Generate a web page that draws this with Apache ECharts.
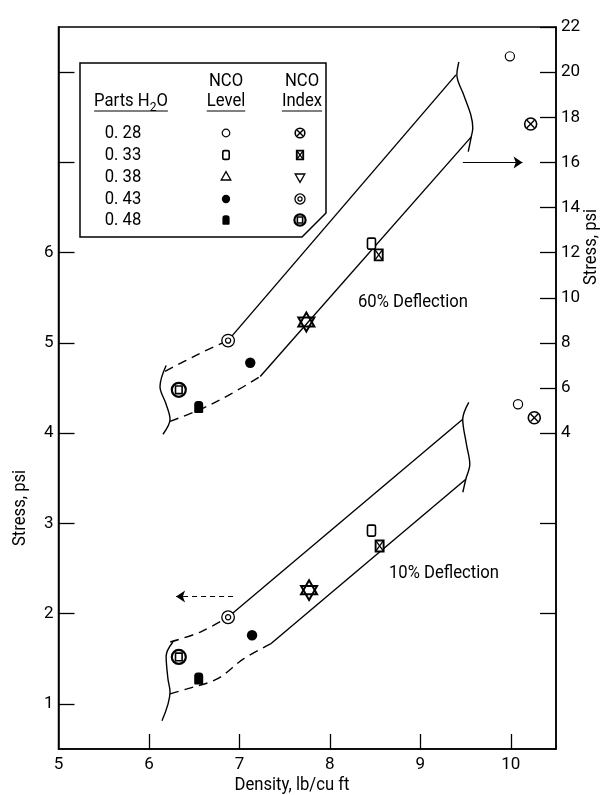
<!DOCTYPE html>
<html><head><meta charset="utf-8">
<script src="https://cdn.jsdelivr.net/npm/echarts@6/dist/echarts.min.js"></script>
<style>html,body{margin:0;padding:0;background:#fff}#c{width:601px;height:795px}</style>
</head><body><div id="c"></div>
<script>
// ---------- axes ----------
const xLabels = [5, 6, 7, 8, 9, 10];
const leftTicks = [1, 2, 3, 4, 5, 6, 7, 8];
const leftLabels = [1, 2, 3, 4, 5, 6];
const rightTicks = [-4, 0, 4, 6, 8, 10, 12, 14, 16, 18, 20, 22];
const rightLabels = [4, 6, 8, 10, 12, 14, 16, 18, 20, 22];

// ---------- 60% deflection points (right axis, psi) ----------
const p60_openCircle = [[9.99, 20.7]];
const p60_crossCircle = [[10.22, 17.7]];
const p60_openSquare = [[8.46, 12.4]];
const p60_xSquare = [[8.54, 11.9]];
const p60_triUp = [[7.74, 8.95]];
const p60_triDown = [[7.74, 8.9]];
const p60_dot = [[7.12, 7.12]];
const p60_ring = [[6.875, 8.1]];
const p60_fillSquare = [[6.55, 5.16]];
const p60_circSquare = [[6.33, 5.92]];

// ---------- 10% deflection points (left axis, psi) ----------
const p10_openCircle = [[10.08, 4.32]];
const p10_crossCircle = [[10.26, 4.17]];
const p10_openSquare = [[8.46, 2.92]];
const p10_xSquare = [[8.55, 2.75]];
const p10_triUp = [[7.77, 2.27]];
const p10_triDown = [[7.77, 2.25]];
const p10_dot = [[7.14, 1.76]];
const p10_ring = [[6.875, 1.96]];
const p10_fillSquare = [[6.55, 1.28]];
const p10_circSquare = [[6.33, 1.52]];

// ---------- 60% band (right axis) ----------
const b60_upperSolid = [[6.876, 8.11], [9.394, 19.88]];
const b60_upperDashed = [[6.177, 6.74], [6.40, 7.2], [6.62, 7.64], [6.876, 8.11]];
const b60_lowerSolid = [[7.23, 6.51], [9.563, 17.13]];
const b60_lowerDashed = [[6.233, 4.52], [6.565, 5.05], [6.898, 5.72], [7.23, 6.51]];
const b60_breakRight = [[9.426, 20.45], [9.404, 19.88], [9.48, 18.99], [9.558, 18.11], [9.58, 17.52], [9.563, 17.13], [9.53, 16.48]];
const b60_breakLeft = [[6.19, 7.0], [6.122, 6.07], [6.19, 5.28], [6.233, 4.61], [6.155, 3.95]];

// ---------- 10% band (left axis) ----------
const b10_upperSolid = [[6.876, 1.962], [9.469, 4.153]];
const b10_upperDashed = [[6.235, 1.686], [6.568, 1.796], [6.876, 1.962]];
const b10_lowerSolid = [[7.344, 1.664], [9.503, 3.489]];
const b10_lowerDashed = [[6.233, 1.11], [6.42, 1.166], [6.754, 1.277], [7.045, 1.498], [7.344, 1.664]];
const b10_breakRight = [[9.536, 4.341], [9.469, 4.153], [9.51, 3.876], [9.547, 3.655], [9.503, 3.489], [9.47, 3.345]];
const b10_breakLeft = [[6.265, 1.686], [6.19, 1.531], [6.21, 1.277], [6.233, 1.133], [6.144, 0.812]];

// ---------- arrows ----------
const arrow60 = [[9.47, 16.0], [10.13, 16.0]];
const arrow10 = [[6.93, 2.19], [6.30, 2.19]];

// ---------- legend ----------
const legendWater = ['0. 28', '0. 33', '0. 38', '0. 43', '0. 48'];
const legendLevelSym = ['openCircleS', 'openSquareS', 'triUpS', 'dotS', 'fillSquareS'];
const legendIndexSym = ['crossCircleS', 'xSquareS', 'triDownS', 'ringS', 'circSquareS'];

const FONT = 'Roboto, "Liberation Sans", sans-serif';
const mctx = document.createElement('canvas').getContext('2d');
function tw(t, size) { mctx.font = size + 'px ' + FONT; return mctx.measureText(t).width; }
const SX = Math.min(1, 110 / tw('60% Deflection', 18)); // condensed look

function sym(t, zz) {
  const K = '#000';
  const small = t.endsWith('S');
  const k = small ? 0.8 : 1;
  const base = small ? t.slice(0, -1) : t;
  let out = [];
  switch (base) {
    case 'openCircle':
      out = [{ type: 'circle', shape: { cx: 0, cy: 0, r: (small ? 3.8 : 4.6) }, style: { stroke: K, fill: '#fff', lineWidth: 1.2 } }]; break;
    case 'crossCircle': {
      const r = 6 * k, d = r * 0.62;
      out = [
        { type: 'circle', shape: { cx: 0, cy: 0, r }, style: { stroke: K, fill: '#fff', lineWidth: 1.6 } },
        { type: 'line', shape: { x1: -d, y1: -d, x2: d, y2: d }, style: { stroke: K, lineWidth: 1.4 } },
        { type: 'line', shape: { x1: -d, y1: d, x2: d, y2: -d }, style: { stroke: K, lineWidth: 1.4 } }]; break;
    }
    case 'openSquare':
      out = [{ type: 'rect', shape: { x: -4 * k, y: -5.5 * k, width: 8 * k, height: 11 * k, r: 1.5 }, style: { stroke: K, fill: '#fff', lineWidth: 1.6 } }]; break;
    case 'xSquare': {
      const w = 4 * k, h = 5.5 * k;
      out = [
        { type: 'rect', shape: { x: -w, y: -h, width: 2 * w, height: 2 * h }, style: { stroke: K, fill: '#fff', lineWidth: 1.9 } },
        { type: 'line', shape: { x1: -w, y1: -h, x2: w, y2: h }, style: { stroke: K, lineWidth: 1.3 } },
        { type: 'line', shape: { x1: -w, y1: h, x2: w, y2: -h }, style: { stroke: K, lineWidth: 1.3 } }]; break;
    }
    case 'triUp': {
      const a = small ? 0.6 : 1;
      out = [{ type: 'polygon', shape: { points: [[0, -9 * a], [8 * a, 5 * a], [-8 * a, 5 * a]] }, style: { stroke: K, fill: 'none', lineWidth: small ? 1.3 : 2 } }]; break;
    }
    case 'triDown': {
      const a = small ? 0.6 : 1;
      out = [{ type: 'polygon', shape: { points: [[0, 9 * a], [8 * a, -5 * a], [-8 * a, -5 * a]] }, style: { stroke: K, fill: 'none', lineWidth: small ? 1.3 : 2 } }]; break;
    }
    case 'dot':
      out = [{ type: 'circle', shape: { cx: 0, cy: 0, r: 5.2 * k }, style: { fill: K } }]; break;
    case 'ring':
      out = [
        { type: 'circle', shape: { cx: 0, cy: 0, r: 6.3 * k }, style: { stroke: K, fill: '#fff', lineWidth: 1.3 } },
        { type: 'circle', shape: { cx: 0, cy: 0, r: 2.6 * k }, style: { stroke: K, fill: '#fff', lineWidth: 1.2 } }]; break;
    case 'fillSquare':
      out = [{ type: 'rect', shape: { x: -4.5 * k, y: -6 * k, width: 9 * k, height: 12 * k, r: [3.5 * k, 3.5 * k, 1, 1] }, style: { fill: K } }]; break;
    case 'circSquare':
      out = [
        { type: 'circle', shape: { cx: 0, cy: 0, r: 7 * k }, style: { stroke: K, fill: '#fff', lineWidth: 2.2 } },
        { type: 'rect', shape: { x: -3.3 * k, y: -3.8 * k, width: 6.6 * k, height: 7.6 * k }, style: { stroke: K, fill: '#fff', lineWidth: 1.6 } }]; break;
  }
  if (zz != null) out.forEach(e => { e.z = zz; });
  return out;
}

function markerSeries(type, data, yIdx) {
  return {
    type: 'custom', coordinateSystem: 'cartesian2d', xAxisIndex: 0, yAxisIndex: yIdx,
    data, encode: { x: 0, y: 1 }, z: 6, silent: true,
    renderItem: (params, api) => {
      const p = api.coord([api.value(0), api.value(1)]);
      return { type: 'group', x: p[0], y: p[1], children: sym(type) };
    }
  };
}
function lineSeries(data, yIdx, dashed, smooth) {
  return {
    type: 'line', data, yAxisIndex: yIdx, showSymbol: false, symbol: 'none',
    smooth: smooth ? 0.35 : false, silent: true, z: 3,
    lineStyle: { color: '#000', width: 1.4, type: dashed ? [9, 6] : 'solid' }
  };
}

const series = [
  lineSeries(b60_upperSolid, 1, false, false),
  lineSeries(b60_upperDashed, 1, true, true),
  lineSeries(b60_lowerSolid, 1, false, false),
  lineSeries(b60_lowerDashed, 1, true, true),
  lineSeries(b60_breakRight, 1, false, true),
  lineSeries(b60_breakLeft, 1, false, true),
  lineSeries(b10_upperSolid, 0, false, false),
  lineSeries(b10_upperDashed, 0, true, true),
  lineSeries(b10_lowerSolid, 0, false, false),
  lineSeries(b10_lowerDashed, 0, true, true),
  lineSeries(b10_breakRight, 0, false, true),
  lineSeries(b10_breakLeft, 0, false, true),
  {
    type: 'lines', coordinateSystem: 'cartesian2d', xAxisIndex: 0, yAxisIndex: 1, silent: true,
    data: [{ coords: arrow60 }], symbol: ['none', 'arrow'], symbolSize: [0, 9],
    lineStyle: { color: '#000', width: 1.2, opacity: 1 }
  },
  {
    type: 'lines', coordinateSystem: 'cartesian2d', xAxisIndex: 0, yAxisIndex: 0, silent: true,
    data: [{ coords: arrow10 }], symbol: ['none', 'arrow'], symbolSize: [0, 9],
    lineStyle: { color: '#000', width: 1.1, type: [5, 4], opacity: 1 }
  },
  markerSeries('openCircle', p60_openCircle, 1),
  markerSeries('crossCircle', p60_crossCircle, 1),
  markerSeries('openSquare', p60_openSquare, 1),
  markerSeries('xSquare', p60_xSquare, 1),
  markerSeries('triUp', p60_triUp, 1),
  markerSeries('triDown', p60_triDown, 1),
  markerSeries('dot', p60_dot, 1),
  markerSeries('ring', p60_ring, 1),
  markerSeries('fillSquare', p60_fillSquare, 1),
  markerSeries('circSquare', p60_circSquare, 1),
  markerSeries('openCircle', p10_openCircle, 0),
  markerSeries('crossCircle', p10_crossCircle, 0),
  markerSeries('openSquare', p10_openSquare, 0),
  markerSeries('xSquare', p10_xSquare, 0),
  markerSeries('triUp', p10_triUp, 0),
  markerSeries('triDown', p10_triDown, 0),
  markerSeries('dot', p10_dot, 0),
  markerSeries('ring', p10_ring, 0),
  markerSeries('fillSquare', p10_fillSquare, 0),
  markerSeries('circSquare', p10_circSquare, 0)
];

function txt(x, y, text, size, align, rot) {
  return {
    type: 'text', x, y, rotation: rot || 0, scaleX: SX, z: 22,
    style: { text, fontSize: size, fontFamily: FONT, fill: '#000', align: align || 'center', verticalAlign: 'middle' }
  };
}
function hline(x1, x2, y, w) {
  return { type: 'line', z: 22, shape: { x1, y1: y, x2, y2: y }, style: { stroke: '#000', lineWidth: w || 1.2 } };
}

// legend graphic
const rowY = [133, 155, 177, 199, 220];
const colW = 123, colL = 226, colI = 300;
const g = [];
g.push({ type: 'polygon', z: 19, shape: { points: [[80, 63], [326, 63], [326, 213], [302, 237], [80, 237]] }, style: { fill: '#fff', stroke: '#000', lineWidth: 1.5 } });
(function () {
  const w1 = tw('Parts H', 18) * SX, w2 = tw('2', 13) * SX, w3 = tw('O', 18) * SX;
  const tot = w1 + w2 + w3, x0 = 131 - tot / 2;
  g.push(txt(x0, 101, 'Parts H', 18, 'left'));
  g.push(txt(x0 + w1, 108, '2', 13, 'left'));
  g.push(txt(x0 + w1 + w2, 101, 'O', 18, 'left'));
  g.push(hline(x0, x0 + tot, 111));
})();
g.push(txt(colL, 81, 'NCO', 18));
g.push(txt(colL, 101, 'Level', 18));
g.push(hline(colL - tw('Level', 18) * SX / 2, colL + tw('Level', 18) * SX / 2, 111));
g.push(txt(colI + 2, 81, 'NCO', 18));
g.push(txt(colI + 2, 101, 'Index', 18));
g.push(hline(colI + 2 - tw('Index', 18) * SX / 2, colI + 2 + tw('Index', 18) * SX / 2, 111));
legendWater.forEach((t, i) => {
  g.push(txt(colW, rowY[i], t, 18));
  g.push({ type: 'group', x: colL, y: rowY[i], z: 22, children: sym(legendLevelSym[i], 22) });
  g.push({ type: 'group', x: colI, y: rowY[i], z: 22, children: sym(legendIndexSym[i], 22) });
});
g.push(txt(413, 302, '60% Deflection', 18));
g.push(txt(444, 573, '10% Deflection', 18));
g.push(txt(20, 508, 'Stress, psi', 18, 'center', Math.PI / 2));
g.push(txt(591, 247, 'Stress, psi', 18, 'center', Math.PI / 2));
g.push(txt(292, 785, 'Density, lb/cu ft', 18));

const axisTextStyle = { color: '#000', fontSize: 17, fontFamily: FONT };
const option = {
  animation: false,
  backgroundColor: '#fff',
  grid: { left: 58.5, right: 45, top: 27, bottom: 46, show: true, borderColor: '#000', borderWidth: 1.5, backgroundColor: 'transparent' },
  xAxis: {
    type: 'value', min: 5, max: 10.5, interval: 0.5,
    axisLine: { show: true, onZero: false, lineStyle: { color: '#000', width: 1.5 } },
    axisTick: { show: true, inside: true, length: 15, customValues: xLabels.slice(1), lineStyle: { color: '#000', width: 1.3 } },
    axisLabel: Object.assign({ customValues: xLabels, margin: 7 }, axisTextStyle),
    splitLine: { show: false }
  },
  yAxis: [
    {
      type: 'value', position: 'left', min: 0.5, max: 8.5, interval: 0.5,
      axisLine: { show: true, onZero: false, lineStyle: { color: '#000', width: 1.5 } },
      axisTick: { show: true, inside: true, length: 16, customValues: leftTicks, lineStyle: { color: '#000', width: 1.3 } },
      axisLabel: Object.assign({ customValues: leftLabels, margin: 5 }, axisTextStyle),
      splitLine: { show: false }
    },
    {
      type: 'value', position: 'right', min: -10, max: 22, interval: 2,
      axisLine: { show: true, onZero: false, lineStyle: { color: '#000', width: 1.5 } },
      axisTick: { show: true, inside: true, length: 16, customValues: rightTicks, lineStyle: { color: '#000', width: 1.3 } },
      axisLabel: Object.assign({ customValues: rightLabels, margin: 5 }, axisTextStyle),
      splitLine: { show: false }
    }
  ],
  graphic: g,
  series
};
const chart = echarts.init(document.getElementById('c'));
chart.setOption(option);
</script>
</body></html>
